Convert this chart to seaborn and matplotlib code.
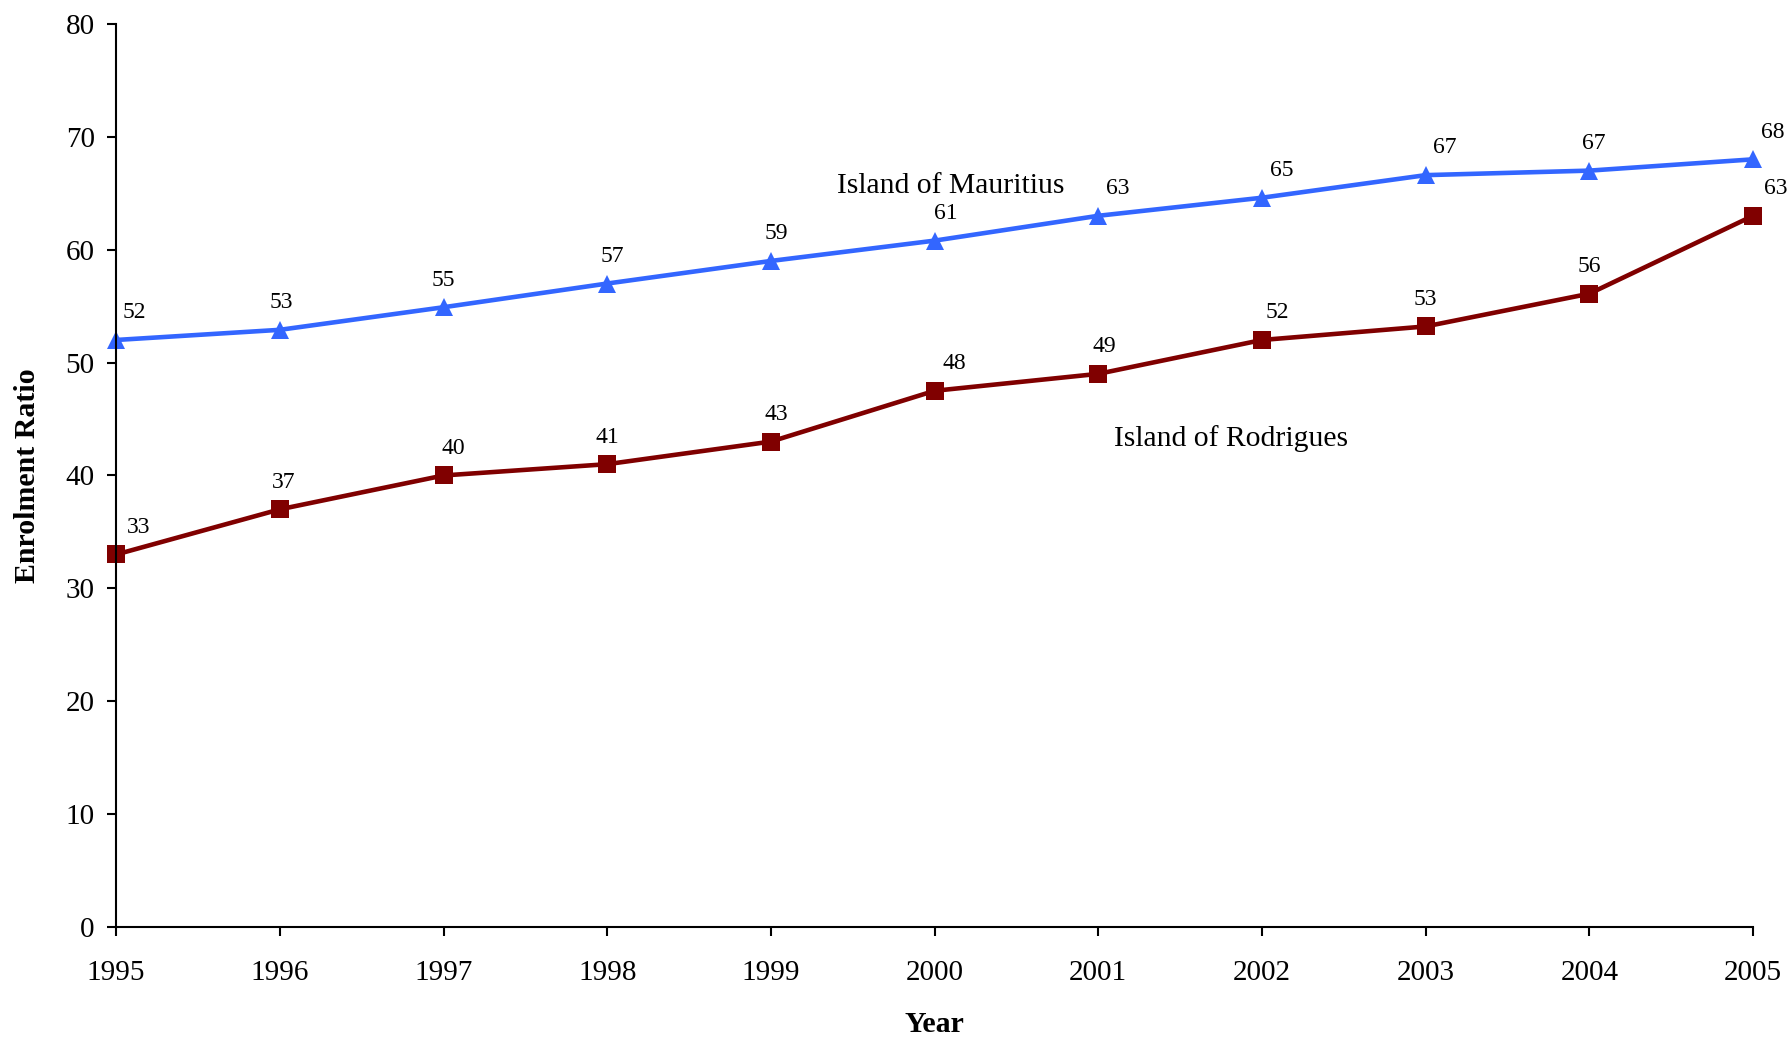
import pandas as pd
import seaborn as sns
import matplotlib.pyplot as plt

# data
years = [1995, 1996, 1997, 1998, 1999, 2000, 2001, 2002, 2003, 2004, 2005]
mauritius = [52.0, 52.9, 54.9, 57.0, 59.0, 60.8, 63.0, 64.6, 66.6, 67.0, 68.0]
rodrigues = [33.0, 37.0, 40.0, 41.0, 43.0, 47.5, 49.0, 52.0, 53.2, 56.1, 63.0]
mauritius_labels = ['52', '53', '55', '57', '59', '61', '63', '65', '67', '67', '68']
rodrigues_labels = ['33', '37', '40', '41', '43', '48', '49', '52', '53', '56', '63']
islands = ['Island of Mauritius', 'Island of Rodrigues']

df = pd.concat([
    pd.DataFrame({'Year': years, 'Ratio': mauritius, 'Island': islands[0]}),
    pd.DataFrame({'Year': years, 'Ratio': rodrigues, 'Island': islands[1]}),
], ignore_index=True)

sns.set_style('ticks')
plt.rcParams['font.family'] = ['Liberation Serif', 'DejaVu Serif']
plt.rcParams['text.color'] = 'black'
plt.rcParams['axes.labelcolor'] = 'black'

fig = plt.figure(figsize=(17.87, 10.37), dpi=100)
ax = fig.add_axes([0.065, 0.106, 0.916, 0.871])

palette = {islands[0]: '#3366ff', islands[1]: '#800000'}
sns.lineplot(data=df, x='Year', y='Ratio', hue='Island', style='Island',
             markers={islands[0]: '^', islands[1]: 's'}, dashes=False,
             palette=palette, linewidth=3.3, markersize=13,
             markeredgewidth=0, legend=False, ax=ax)
for line in ax.lines:
    line.set_clip_on(False)

# data labels (Excel-style, slightly offset to the right of each point)
m_dx = [13, 1, 0, 4, 4, 8, 14, 14, 14, 3, 14]
r_dx = [16, 3, 7, 0, 4, 14, 4, 11, 0, 0, 16]
for x, y, t, dx in zip(years, mauritius, mauritius_labels, m_dx):
    ax.annotate(t, (x, y), xytext=(dx, 12), textcoords='offset points',
                ha='center', va='bottom', fontsize=17, color='black',
                clip_on=False)
for x, y, t, dx in zip(years, rodrigues, rodrigues_labels, r_dx):
    ax.annotate(t, (x, y), xytext=(dx, 12), textcoords='offset points',
                ha='center', va='bottom', fontsize=17, color='black',
                clip_on=False)

ax.text(2000.1, 65.6, islands[0], ha='center', va='center', fontsize=21.3,
        color='black')
ax.text(2001.81, 43.3, islands[1], ha='center', va='center', fontsize=21.3,
        color='black')

ax.set_xlim(1995, 2005)
ax.set_ylim(0, 80)
ax.set_xticks(years)
ax.set_yticks(range(0, 81, 10))
ax.tick_params(axis='both', direction='out', length=6.5, width=1.5,
               labelsize=21, colors='black', labelcolor='black')
ax.tick_params(axis='x', pad=17)
ax.tick_params(axis='y', pad=9)
for s in ['top', 'right']:
    ax.spines[s].set_visible(False)
for s in ['left', 'bottom']:
    ax.spines[s].set_linewidth(1.5)
    ax.spines[s].set_color('black')

ax.set_xlabel('Year', fontsize=21.5, fontweight='bold', labelpad=18)
ax.set_ylabel('Enrolment Ratio', fontsize=21.5, fontweight='bold', labelpad=18)

fig.savefig('out.png', dpi=100)
